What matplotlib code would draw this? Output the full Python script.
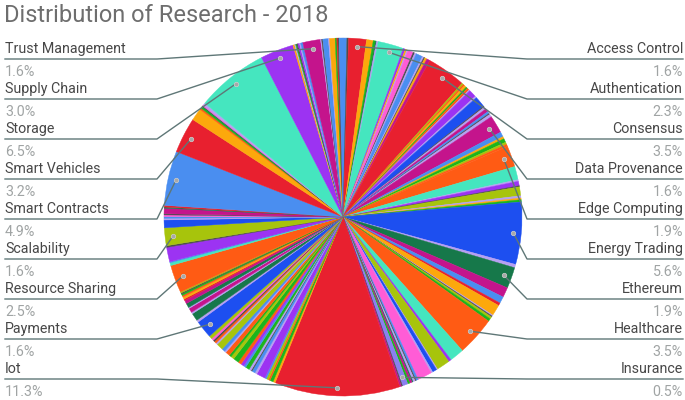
import matplotlib
matplotlib.use("Agg")
import matplotlib.pyplot as plt
import numpy as np

# labelled topics, clockwise from 12 o'clock (share of papers, %)
topics = ["Access Control", "Authentication", "Consensus", "Data Provenance",
          "Edge Computing", "Energy Trading", "Ethereum", "Healthcare",
          "Insurance", "Iot", "Payments", "Resource Sharing", "Scalability",
          "Smart Contracts", "Smart Vehicles", "Storage", "Supply Chain",
          "Trust Management"]
shares = [1.6, 2.3, 3.5, 1.6, 1.9, 5.6, 1.9, 3.5, 0.5, 11.3, 1.6, 2.5, 1.6,
          4.9, 3.2, 6.5, 3.0, 1.6]

# small unlabelled topics sitting before each labelled one (last entry = after Trust Management)
minor_shares = [
    [0.35, 0.15],
    [0.6, 0.2, 0.1, 0.15],
    [0.2, 0.15, 0.1, 0.5, 0.15, 0.15, 0.6, 0.15, 0.1, 0.2, 0.3],
    [0.15, 0.15, 0.2, 0.15, 0.2, 0.1, 0.7, 0.15, 1.0, 0.1, 0.2, 0.3, 0.2, 0.1, 0.25],
    [0.45, 0.2, 0.35, 0.2, 0.2],
    [1.2, 0.15, 0.4, 0.1, 0.8, 0.2, 0.15, 0.2],
    [0.3],
    [0.9, 0.6, 0.25, 1.0, 0.1, 0.1, 0.2, 0.25],
    [1.3, 0.25, 1.2, 0.1, 0.4, 0.15, 1.3, 0.2, 0.1, 0.2, 0.1, 0.2, 0.2],
    [0.1, 0.15],
    [0.2, 0.3, 0.15, 0.2, 0.15, 0.8, 0.2, 0.3, 0.1, 0.2, 0.35, 0.2, 0.3, 0.3,
     0.5, 0.3, 0.2, 0.4, 0.15, 0.3, 0.6, 0.15, 0.2, 0.15, 0.2, 0.3],
    [0.2, 0.7, 0.15, 0.4, 0.1, 0.4, 0.3, 0.15, 0.2, 0.15, 0.15, 0.1, 0.1],
    [0.25, 0.1, 1.3, 0.15],
    [0.7, 0.15, 0.15, 0.15, 0.1, 0.5, 0.1, 0.15],
    [],
    [1.1, 0.15, 0.15, 0.1, 0.1, 0.2],
    [],
    [0.15, 0.1, 0.1, 0.1, 0.15, 0.1, 0.2],
    [0.1, 0.1, 0.5, 0.1, 0.5, 0.15, 0.1, 0.1, 0.35],
]

# colours
palette = {'R': '#e8202f', 'B': '#4a8ef0', 'Y': '#fca80c', 'G': '#1cb51c',
           'P': '#9c33f2', 'M': '#c4148c', 'T': '#45e6bf', 'O': '#ff5b14',
           'L': '#a7c40c', 'D': '#16784a', 'N': '#1d4ff0', 'K': '#ff5cd6',
           'V': '#b6a0f2', 'S': '#4d4d4d', 'I': '#8a7ff0'}
topic_codes = "RTRMONDOIRNOLBRTPM"
minor_codes = ["BS", "YGDV", "PYVKSVBVSYM", "LOYGOVPVNSVMBSV", "BYGLO", "TVPSLVYG",
               "V", "MBRYVSLG", "TPLVNVKBSVDMG", "SM", "YGOLBPVBSVGBPOGLGOVBLVOSKL",
               "VDVMVDMRYOGSL", "TBPS", "NVBKSMDR", "", "YOGDKV", "", "YVGSPVB",
               "VSBVYGRSB"]

# flatten into one slice list
values, colors, labelled = [], [], []
for i in range(len(topics) + 1):
    for v, c in zip(minor_shares[i], minor_codes[i]):
        values.append(v)
        colors.append(palette[c])
        labelled.append(None)
    if i < len(topics):
        values.append(shares[i])
        colors.append(palette[topic_codes[i]])
        labelled.append(i)

W, H = 685, 400
fig = plt.figure(figsize=(W / 100, H / 100), dpi=100)
ax = fig.add_axes([0, 0, 1, 1])

cx, cy, R = 343, H - 217, 179
wedges, _ = ax.pie(values, colors=colors, startangle=90, counterclock=False,
                   center=(cx, cy), radius=R)
for w in wedges:
    w.set_edgecolor(w.get_facecolor())
    w.set_linewidth(0.3)
ax.set_xlim(0, W)
ax.set_ylim(0, H)
ax.set_aspect('equal')
ax.axis('off')

line_col = '#5f7777'
name_col = '#474747'
pct_col = '#a0a4a4'

# find dot position of each labelled slice
dots = {}
for w, idx in zip(wedges, labelled):
    if idx is None:
        continue
    mid = np.deg2rad((w.theta1 + w.theta2) / 2)
    dots[idx] = (cx + 0.955 * R * np.cos(mid), cy + 0.955 * R * np.sin(mid))

right = list(range(0, 9))
left = list(range(9, len(topics)))[::-1]

def put_label(idx, row, side):
    ly = H - (59 + 40 * row)
    dx, dy = dots[idx]
    if side == 'left':
        x0, xe, ha = 5, 157, 'left'
    else:
        x0, xe, ha = 683, 527, 'right'
    ax.plot([x0, xe, dx], [ly, ly, dy], color=line_col, lw=1.0, zorder=3)
    ax.text(x0, ly + 10, topics[idx], ha=ha, va='center', fontsize=10.3,
            color=name_col, family='Roboto')
    ax.text(x0, ly - 13, f"{shares[idx]:.1f}%", ha=ha, va='center',
            fontsize=10.3, color=pct_col, family='Roboto')
    ax.plot(dx, dy, 'o', ms=3.2, color='#a8a8a8', mec='#d0d0d0', mew=0.5, zorder=4)

for row, idx in enumerate(right):
    put_label(idx, row, 'right')
for row, idx in enumerate(left):
    put_label(idx, row, 'left')

ax.text(4, H - 15, "Distribution of Research - 2018", ha='left', va='center',
        fontsize=17, color='#6e6e6e', family='Roboto')

fig.savefig("out.png", dpi=100)
